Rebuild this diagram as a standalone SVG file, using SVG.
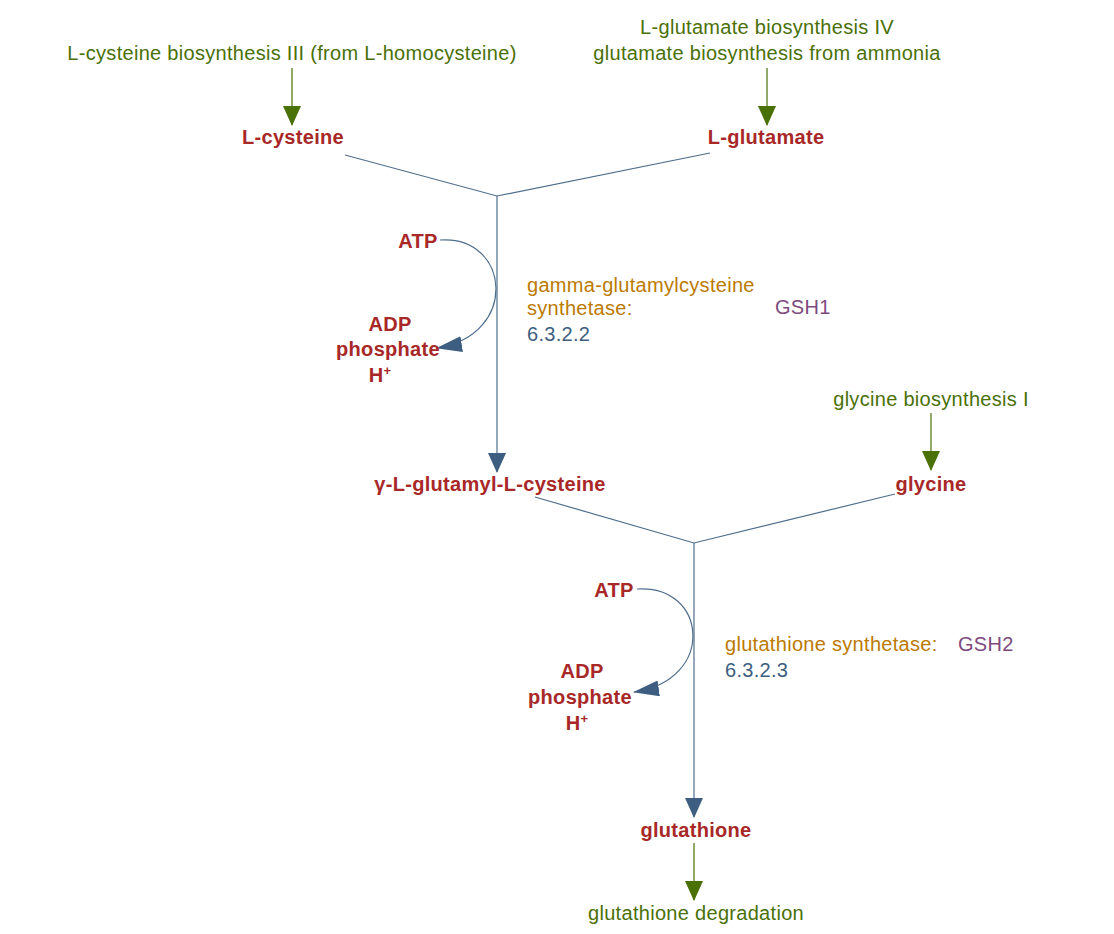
<svg xmlns="http://www.w3.org/2000/svg" width="1114" height="934" viewBox="0 0 1114 934">
<style>
text{font-family:"Liberation Sans",Arial,sans-serif;font-size:20px;letter-spacing:0.3px}
.m{fill:#a82828;font-weight:bold;text-anchor:middle}
.p{fill:#4a7008;text-anchor:middle}
.e{fill:#bb7a00}
.g{fill:#7e4a7e}
.n{fill:#3d5e80}
.l{stroke:#4f6e8c;stroke-width:1.2;fill:none}
.pl{stroke:#4a7008;stroke-width:1.2;fill:none}
</style>
<defs>
<marker id="a" markerWidth="26" markerHeight="16" refX="25" refY="8" orient="auto" markerUnits="userSpaceOnUse"><path d="M0,0L26,8L0,16z" fill="#3d5e80"/></marker>
<marker id="ga" markerWidth="18" markerHeight="20" refX="9" refY="19" orient="0" markerUnits="userSpaceOnUse"><path d="M0,0L18,0L9,20z" fill="#4a7008"/></marker>
<marker id="ba" markerWidth="18" markerHeight="20" refX="9" refY="19" orient="0" markerUnits="userSpaceOnUse"><path d="M0,0L18,0L9,20z" fill="#3d5e80"/></marker>
</defs>
<g id="connectors">
<path class="pl" d="M292,68V125" marker-end="url(#ga)"/>
<path class="pl" d="M767,68V125" marker-end="url(#ga)"/>
<path class="pl" d="M931,413V470" marker-end="url(#ga)"/>
<path class="pl" d="M694,843V900" marker-end="url(#ga)"/>
<path class="l" d="M345,155L497,196L710,153"/>
<path class="l" d="M497,196V472" marker-end="url(#ba)"/>
<path class="l" d="M440,240C510,235 520,335 437,348" marker-end="url(#a)"/>
<path class="l" d="M535,497L694,543L895,494"/>
<path class="l" d="M694,543V817" marker-end="url(#ba)"/>
<path class="l" d="M637,589C707,584 717,680 634,692" marker-end="url(#a)"/>
</g>
<g id="pw1"><text class="p" x="292" y="60">L-cysteine biosynthesis III (from L-homocysteine)</text></g>
<g id="pw2"><text class="p" x="767" y="34">L-glutamate biosynthesis IV</text><text class="p" x="767" y="60">glutamate biosynthesis from ammonia</text></g>
<g id="pw3"><text class="p" x="931" y="406">glycine biosynthesis I</text></g>
<g id="pw4"><text class="p" x="696" y="920">glutathione degradation</text></g>
<g id="cys"><text class="m" x="293" y="144">L-cysteine</text></g>
<g id="glu"><text class="m" x="766" y="144">L-glutamate</text></g>
<g id="atp1"><text class="m" x="418" y="248">ATP</text></g>
<g id="side1"><text class="m" x="390" y="331">ADP</text><text class="m" x="388" y="356">phosphate</text><text class="m" x="380" y="382">H<tspan dy="-7" font-size="13">+</tspan></text></g>
<g id="enz1"><text class="e" x="527" y="292">gamma-glutamylcysteine</text><text class="e" x="527" y="315">synthetase:</text><text class="n" x="527" y="341">6.3.2.2</text><text class="g" x="775" y="314">GSH1</text></g>
<g id="ggc"><text class="m" x="490" y="491">γ-L-glutamyl-L-cysteine</text></g>
<g id="gly"><text class="m" x="931" y="491">glycine</text></g>
<g id="atp2"><text class="m" x="614" y="597">ATP</text></g>
<g id="side2"><text class="m" x="582" y="678">ADP</text><text class="m" x="580" y="704">phosphate</text><text class="m" x="577" y="730">H<tspan dy="-7" font-size="13">+</tspan></text></g>
<g id="enz2"><text class="e" x="725" y="651">glutathione synthetase:</text><text class="g" x="958" y="651">GSH2</text><text class="n" x="725" y="677">6.3.2.3</text></g>
<g id="gsh"><text class="m" x="696" y="837">glutathione</text></g>
</svg>
